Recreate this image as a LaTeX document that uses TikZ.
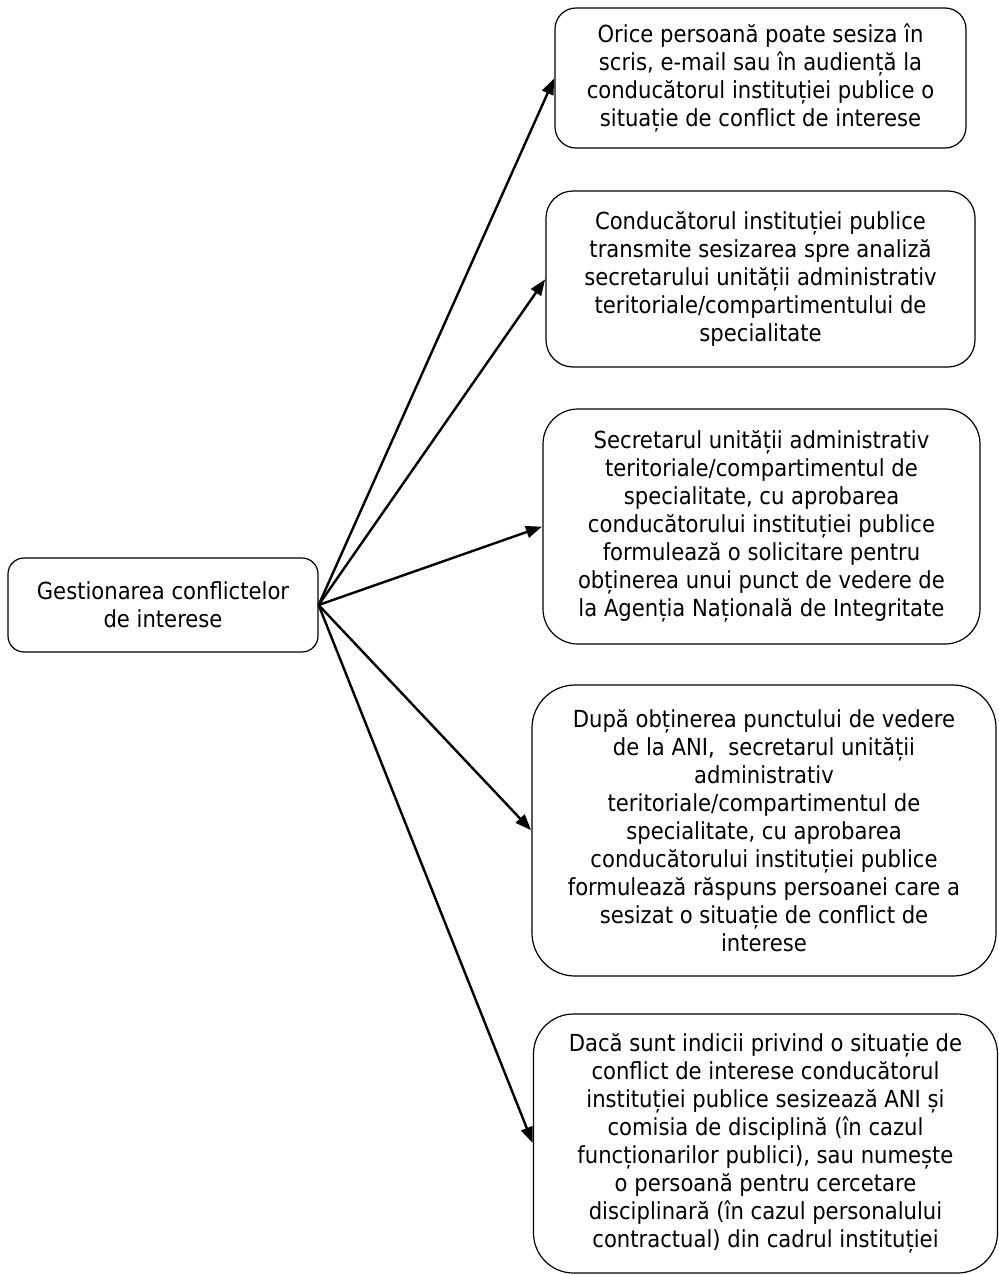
\documentclass[tikz,border=0pt]{standalone}
\usepackage{fontspec}
\setmainfont{DejaVu Sans Condensed}
\usetikzlibrary{arrows.meta}
\begin{document}
\begin{tikzpicture}[x=1pt,y=-1pt,
  box/.style={draw=black, line width=1.2pt, rectangle, align=center,
    inner sep=0pt, font=\fontsize{23.5}{28}\selectfont},
  link/.style={line width=2.4pt, -{Triangle[length=16pt,width=12pt]}, shorten >=0.5pt}]
\useasboundingbox (0,0) rectangle (999,1275);

\node[box, rounded corners=16pt, minimum width=310pt, minimum height=94pt] (root) at (163,605)
  {Gestionarea conflictelor\\de interese};

\node[box, rounded corners=21pt, minimum width=411pt, minimum height=140pt] (s1) at (760.5,78)
  {Orice persoană poate sesiza în\\scris, e-mail sau în audiență la\\conducătorul instituției publice o\\situație de conflict de interese};

\node[box, rounded corners=27pt, minimum width=429pt, minimum height=176pt] (s2) at (760.5,279)
  {Conducătorul instituției publice\\transmite sesizarea spre analiză\\secretarului unității administrativ\\teritoriale/compartimentului de\\specialitate};

\node[box, rounded corners=35pt, minimum width=437pt, minimum height=235pt] (s3) at (761.5,526.5)
  {Secretarul unității administrativ\\teritoriale/compartimentul de\\specialitate, cu aprobarea\\conducătorului instituției publice\\formulează o solicitare pentru\\obținerea unui punct de vedere de\\la Agenția Națională de Integritate};

\node[box, rounded corners=43pt, minimum width=464pt, minimum height=291pt] (s4) at (764,830.5)
  {După obținerea punctului de vedere\\de la ANI, \ secretarul unității\\administrativ\\teritoriale/compartimentul de\\specialitate, cu aprobarea\\conducătorului instituției publice\\formulează răspuns persoanei care a\\sesizat o situație de conflict de\\interese};

\node[box, rounded corners=40pt, minimum width=464pt, minimum height=259pt] (s5) at (765.5,1143.5)
  {Dacă sunt indicii privind o situație de\\conflict de interese conducătorul\\instituției publice sesizează ANI și\\comisia de disciplină (în cazul\\funcționarilor publici), sau numește\\o persoană pentru cercetare\\disciplinară (în cazul personalului\\contractual) din cadrul instituției};

\foreach \t in {s1,s2,s3,s4,s5}
  \draw[link] (root.east) -- (\t.west);
\end{tikzpicture}
\end{document}
